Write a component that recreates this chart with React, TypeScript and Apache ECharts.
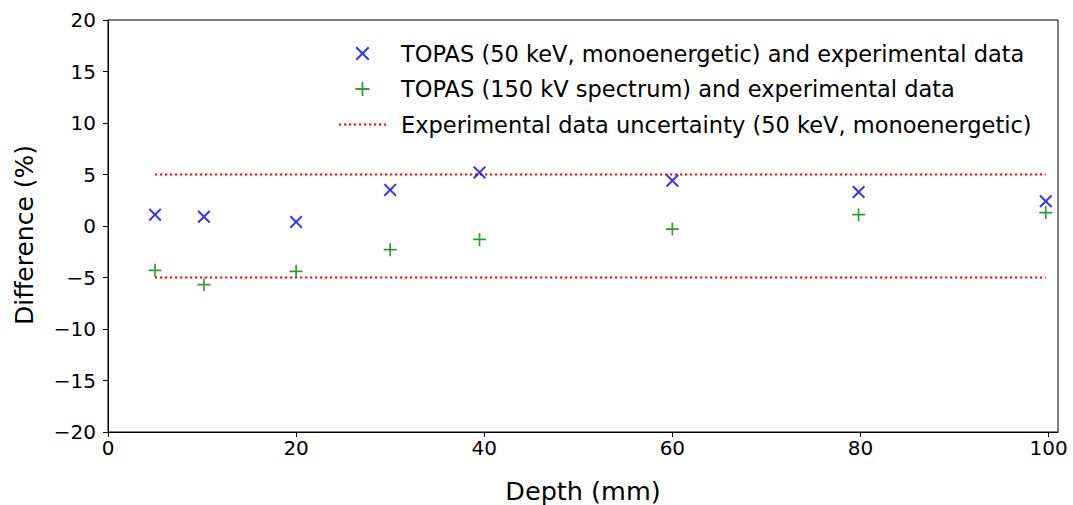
import React, { useEffect, useRef } from "react";
import * as echarts from "echarts";

const depths = [5, 10.2, 20, 30, 39.5, 60, 79.8, 99.7];
const monoDiff = [1.1, 0.9, 0.4, 3.5, 5.2, 4.4, 3.3, 2.4];
const spectrumDiff = [-4.3, -5.7, -4.4, -2.3, -1.3, -0.3, 1.1, 1.3];
const uncertaintyLimit = 5;
const uncertaintyRange = [5, 99.7];
const xTicks = [0, 20, 40, 60, 80, 100];

const seriesNames = [
  "TOPAS (50 keV, monoenergetic) and experimental data",
  "TOPAS (150 kV spectrum) and experimental data",
  "Experimental data uncertainty (50 keV, monoenergetic)",
];

// marker shapes (plus / rotated plus = x)
function crossPath(angleDeg: number, arm: number, half: number) {
  const pts: [number, number][] = [
    [-half, -arm], [half, -arm], [half, -half], [arm, -half], [arm, half], [half, half],
    [half, arm], [-half, arm], [-half, half], [-arm, half], [-arm, -half], [-half, -half],
  ];
  const a = (angleDeg * Math.PI) / 180;
  const c = Math.cos(a);
  const s = Math.sin(a);
  const r = pts.map(([x, y]) => [x * c - y * s, x * s + y * c]);
  return "path://M" + r.map(([x, y]) => x.toFixed(3) + "," + y.toFixed(3)).join("L") + "Z";
}
const plusSymbol = crossPath(0, 7, 0.9);
const xSymbol = crossPath(45, 7, 0.85);

const FONT = "DejaVu Sans";

export default function App() {
  const ref = useRef<HTMLDivElement>(null);
  useEffect(() => {
    if (!ref.current) return;
    const chart = echarts.init(ref.current, undefined, { renderer: "svg" });
    const fmtMinus = (v: number) => (v < 0 ? "\u2212" + Math.abs(v) : String(v));
    const dotted = { color: "#ff0000", width: 2.2, type: [2.2, 2.8] };
    chart.setOption({
      animation: false,
      backgroundColor: "#ffffff",
      textStyle: { fontFamily: FONT },
      grid: {
        left: 108,
        right: 15,
        top: 20,
        bottom: 73,
        show: true,
        borderColor: "#000",
        borderWidth: 1,
        backgroundColor: "transparent",
        outerBoundsMode: "none",
        containLabel: false,
      },
      legend: {
        orient: "vertical",
        left: 333,
        top: 37,
        itemWidth: 47,
        itemHeight: 14,
        itemGap: 12.5,
        data: [
          { name: seriesNames[0] },
          { name: seriesNames[1] },
          { name: seriesNames[2], itemStyle: { opacity: 0 } },
        ],
        textStyle: { fontFamily: FONT, fontSize: 22.5, color: "#000", padding: [0, 0, 0, 10] },
      },
      xAxis: {
        type: "value",
        min: 0,
        max: 101,
        interval: 20,
        name: "Depth (mm)",
        nameLocation: "middle",
        nameGap: 46,
        nameTextStyle: { fontFamily: FONT, fontSize: 25.5, color: "#000" },
        axisLine: { show: true, onZero: false, lineStyle: { color: "#000", width: 1 } },
        axisTick: { show: true, length: 5, lineStyle: { color: "#000" }, customValues: xTicks },
        axisLabel: { fontFamily: FONT, fontSize: 20, color: "#000", margin: 6, customValues: xTicks },
        splitLine: { show: false },
      },
      yAxis: {
        type: "value",
        min: -20,
        max: 20,
        interval: 5,
        name: "Difference (%)",
        nameLocation: "middle",
        nameRotate: 90,
        nameGap: 71,
        nameTextStyle: { fontFamily: FONT, fontSize: 25, color: "#000", padding: [0, 18, 0, 0] },
        axisLine: { show: true, onZero: false, lineStyle: { color: "#000", width: 1 } },
        axisTick: { show: true, length: 5, lineStyle: { color: "#000" } },
        axisLabel: { fontFamily: FONT, fontSize: 20, color: "#000", margin: 12, formatter: fmtMinus },
        splitLine: { show: false },
      },
      series: [
        {
          name: seriesNames[0],
          type: "scatter",
          symbol: xSymbol,
          symbolSize: 13,
          itemStyle: { color: "#0000ff" },
          data: depths.map((d, i) => [d, monoDiff[i]]),
          z: 3,
        },
        {
          name: seriesNames[1],
          type: "scatter",
          symbol: plusSymbol,
          symbolSize: 13,
          itemStyle: { color: "#008000" },
          data: depths.map((d, i) => [d, spectrumDiff[i]]),
          z: 3,
        },
        {
          name: seriesNames[2],
          type: "line",
          symbol: "none",
          lineStyle: dotted,
          itemStyle: { color: "#ff0000" },
          data: uncertaintyRange.map((d) => [d, uncertaintyLimit]),
          z: 2,
        },
        {
          name: seriesNames[2],
          type: "line",
          symbol: "none",
          lineStyle: dotted,
          itemStyle: { color: "#ff0000" },
          data: uncertaintyRange.map((d) => [d, -uncertaintyLimit]),
          z: 2,
        },
      ],
    });
    return () => chart.dispose();
  }, []);
  return (
    <div
      ref={ref}
      style={{ position: "fixed", left: 0, top: 0, width: 1073, height: 505, background: "#fff" }}
    />
  );
}
